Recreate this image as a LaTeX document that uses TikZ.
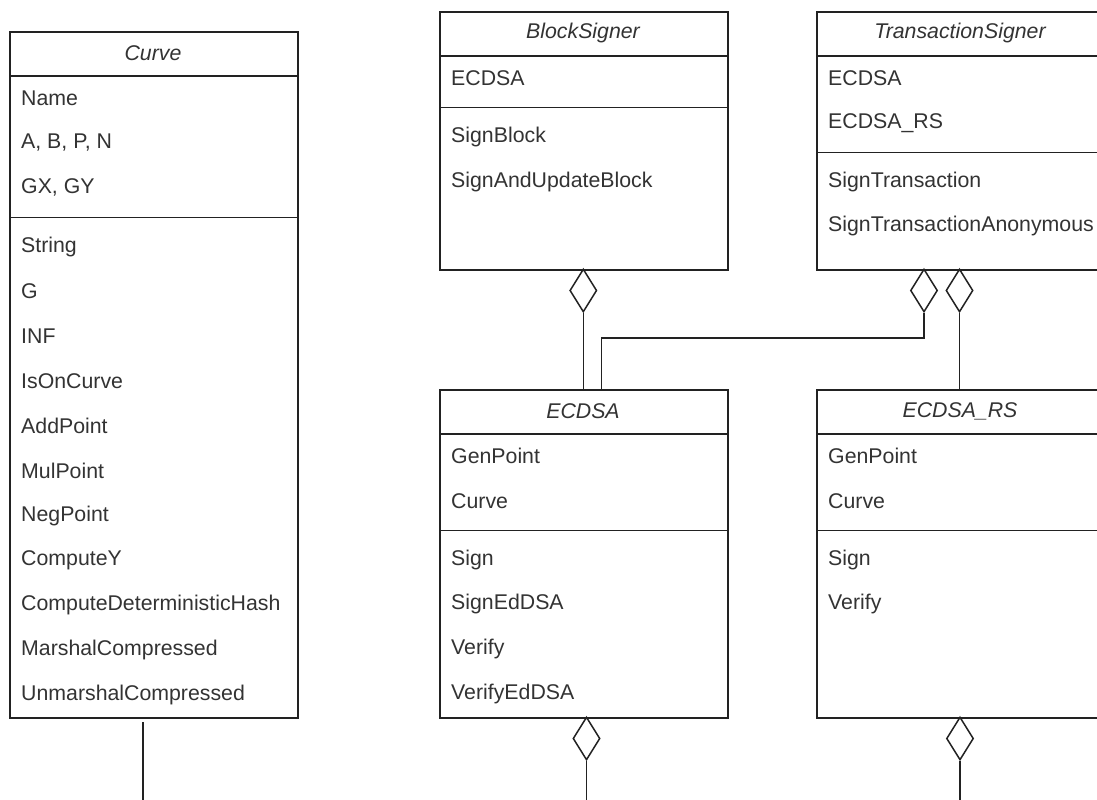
\documentclass[tikz,border=0pt]{standalone}
\usepackage{fontspec}
\setmainfont{Liberation Sans}
\usetikzlibrary{shapes.geometric}
\definecolor{txt}{HTML}{333333}
\definecolor{ln}{HTML}{222222}
\begin{document}
\begin{tikzpicture}[x=1pt,y=-1pt,
  classbox/.style={draw=ln, line width=1.6pt, rectangle, inner sep=0, anchor=north west},
  sepline/.style={draw=ln, line width=1.6pt},
  hdr/.style={text=txt, inner sep=0, font=\fontsize{21.3}{24}\selectfont\itshape},
  item/.style={text=txt, inner sep=0, anchor=west, font=\fontsize{21.3}{24}\selectfont},
  conn/.style={draw=ln, line width=1.5pt},
  agg/.style={diamond, draw=ln, line width=1.5pt, fill=white, minimum width=27pt, minimum height=43pt, inner sep=0}
]
\useasboundingbox (0,0) rectangle (1097,800);
\clip (0,0) rectangle (1097,800);
\fill[white] (0,0) rectangle (1097,800);

% ---------- Curve ----------
\node[classbox, minimum width=288pt, minimum height=686pt] (curve) at (9,31) {};
\draw[sepline] (9,75.8) -- (297,75.8);
\draw[sepline] (9,217.5) -- (297,217.5);
\node[hdr] (curveT) at (153,53.4) {Curve};
\node[item] (c1) at (21,98.2) {Name};
\node[item] (c2) at (21,143.0) {A, B, P, N};
\node[item] (c3) at (21,187.8) {GX, GY};
\node[item] (c4) at (21,246.8) {String};
\node[item] (c5) at (21,291.6) {G};
\node[item] (c6) at (21,336.4) {INF};
\node[item] (c7) at (21,381.2) {IsOnCurve};
\node[item] (c8) at (21,426.0) {AddPoint};
\node[item] (c9) at (21,470.8) {MulPoint};
\node[item] (c10) at (21,515.6) {NegPoint};
\node[item] (c11) at (21,560.4) {ComputeY};
\node[item] (c12) at (21,605.2) {ComputeDeterministicHash};
\node[item] (c13) at (21,650.0) {MarshalCompressed};
\node[item] (c14) at (21,694.8) {UnmarshalCompressed};

% ---------- BlockSigner ----------
\node[classbox, minimum width=288pt, minimum height=258pt] (bs) at (439,11) {};
\draw[sepline] (439,55.8) -- (727,55.8);
\draw[sepline] (439,107.5) -- (727,107.5);
\node[hdr] (bsT) at (583,33.4) {BlockSigner};
\node[item] (b1) at (451,78.2) {ECDSA};
\node[item] (b2) at (451,136.8) {SignBlock};
\node[item] (b3) at (451,181.6) {SignAndUpdateBlock};

% ---------- TransactionSigner ----------
\node[classbox, minimum width=288pt, minimum height=258pt] (ts) at (816,11) {};
\draw[sepline] (816,55.8) -- (1104,55.8);
\draw[sepline] (816,152.3) -- (1104,152.3);
\node[hdr] (tsT) at (960,33.4) {TransactionSigner};
\node[item] (t1) at (828,78.2) {ECDSA};
\node[item] (t2) at (828,123.0) {ECDSA\_RS};
\node[item] (t3) at (828,181.6) {SignTransaction};
\node[item] (t4) at (828,226.4) {SignTransactionAnonymous};

% ---------- ECDSA ----------
\node[classbox, minimum width=288pt, minimum height=328pt] (ec) at (439,389) {};
\draw[sepline] (439,433.8) -- (727,433.8);
\draw[sepline] (439,530.3) -- (727,530.3);
\node[hdr] (ecT) at (583,411.4) {ECDSA};
\node[item] (e1) at (451,456.2) {GenPoint};
\node[item] (e2) at (451,501.0) {Curve};
\node[item] (e3) at (451,559.6) {Sign};
\node[item] (e4) at (451,604.4) {SignEdDSA};
\node[item] (e5) at (451,649.2) {Verify};
\node[item] (e6) at (451,694.0) {VerifyEdDSA};

% ---------- ECDSA_RS ----------
\node[classbox, minimum width=288pt, minimum height=328pt] (rs) at (816,389) {};
\draw[sepline] (816,433.8) -- (1104,433.8);
\draw[sepline] (816,530.3) -- (1104,530.3);
\node[hdr] (rsT) at (960,411.4) {ECDSA\_RS};
\node[item] (r1) at (828,456.2) {GenPoint};
\node[item] (r2) at (828,501.0) {Curve};
\node[item] (r3) at (828,559.6) {Sign};
\node[item] (r4) at (828,604.4) {Verify};

% ---------- aggregation diamonds ----------
\node[agg] (dbs) at (583.3,290.5) {};
\node[agg] (dts1) at (924,290.5) {};
\node[agg] (dts2) at (959.5,290.5) {};
\node[agg] (dec) at (586.5,738.5) {};
\node[agg] (drs) at (960,738.5) {};

\coordinate (bend) at (601.5,338);
\coordinate (ecEnd) at (586.5,802);
\coordinate (rsEnd) at (960,802);
\coordinate (cvStart) at (143,722);
\coordinate (cvEnd) at (143,802);

% ---------- connectors ----------
\draw[conn] (dbs.south) -- (dbs.south |- ec.north);
\draw[conn] (dts1.south) |- (bend) -- (bend |- ec.north);
\draw[conn] (dts2.south) -- (dts2.south |- rs.north);
\draw[conn] (dec.south) -- (ecEnd);
\draw[conn] (drs.south) -- (rsEnd);
\draw[conn] (cvStart) -- (cvEnd);
\end{tikzpicture}
\end{document}
